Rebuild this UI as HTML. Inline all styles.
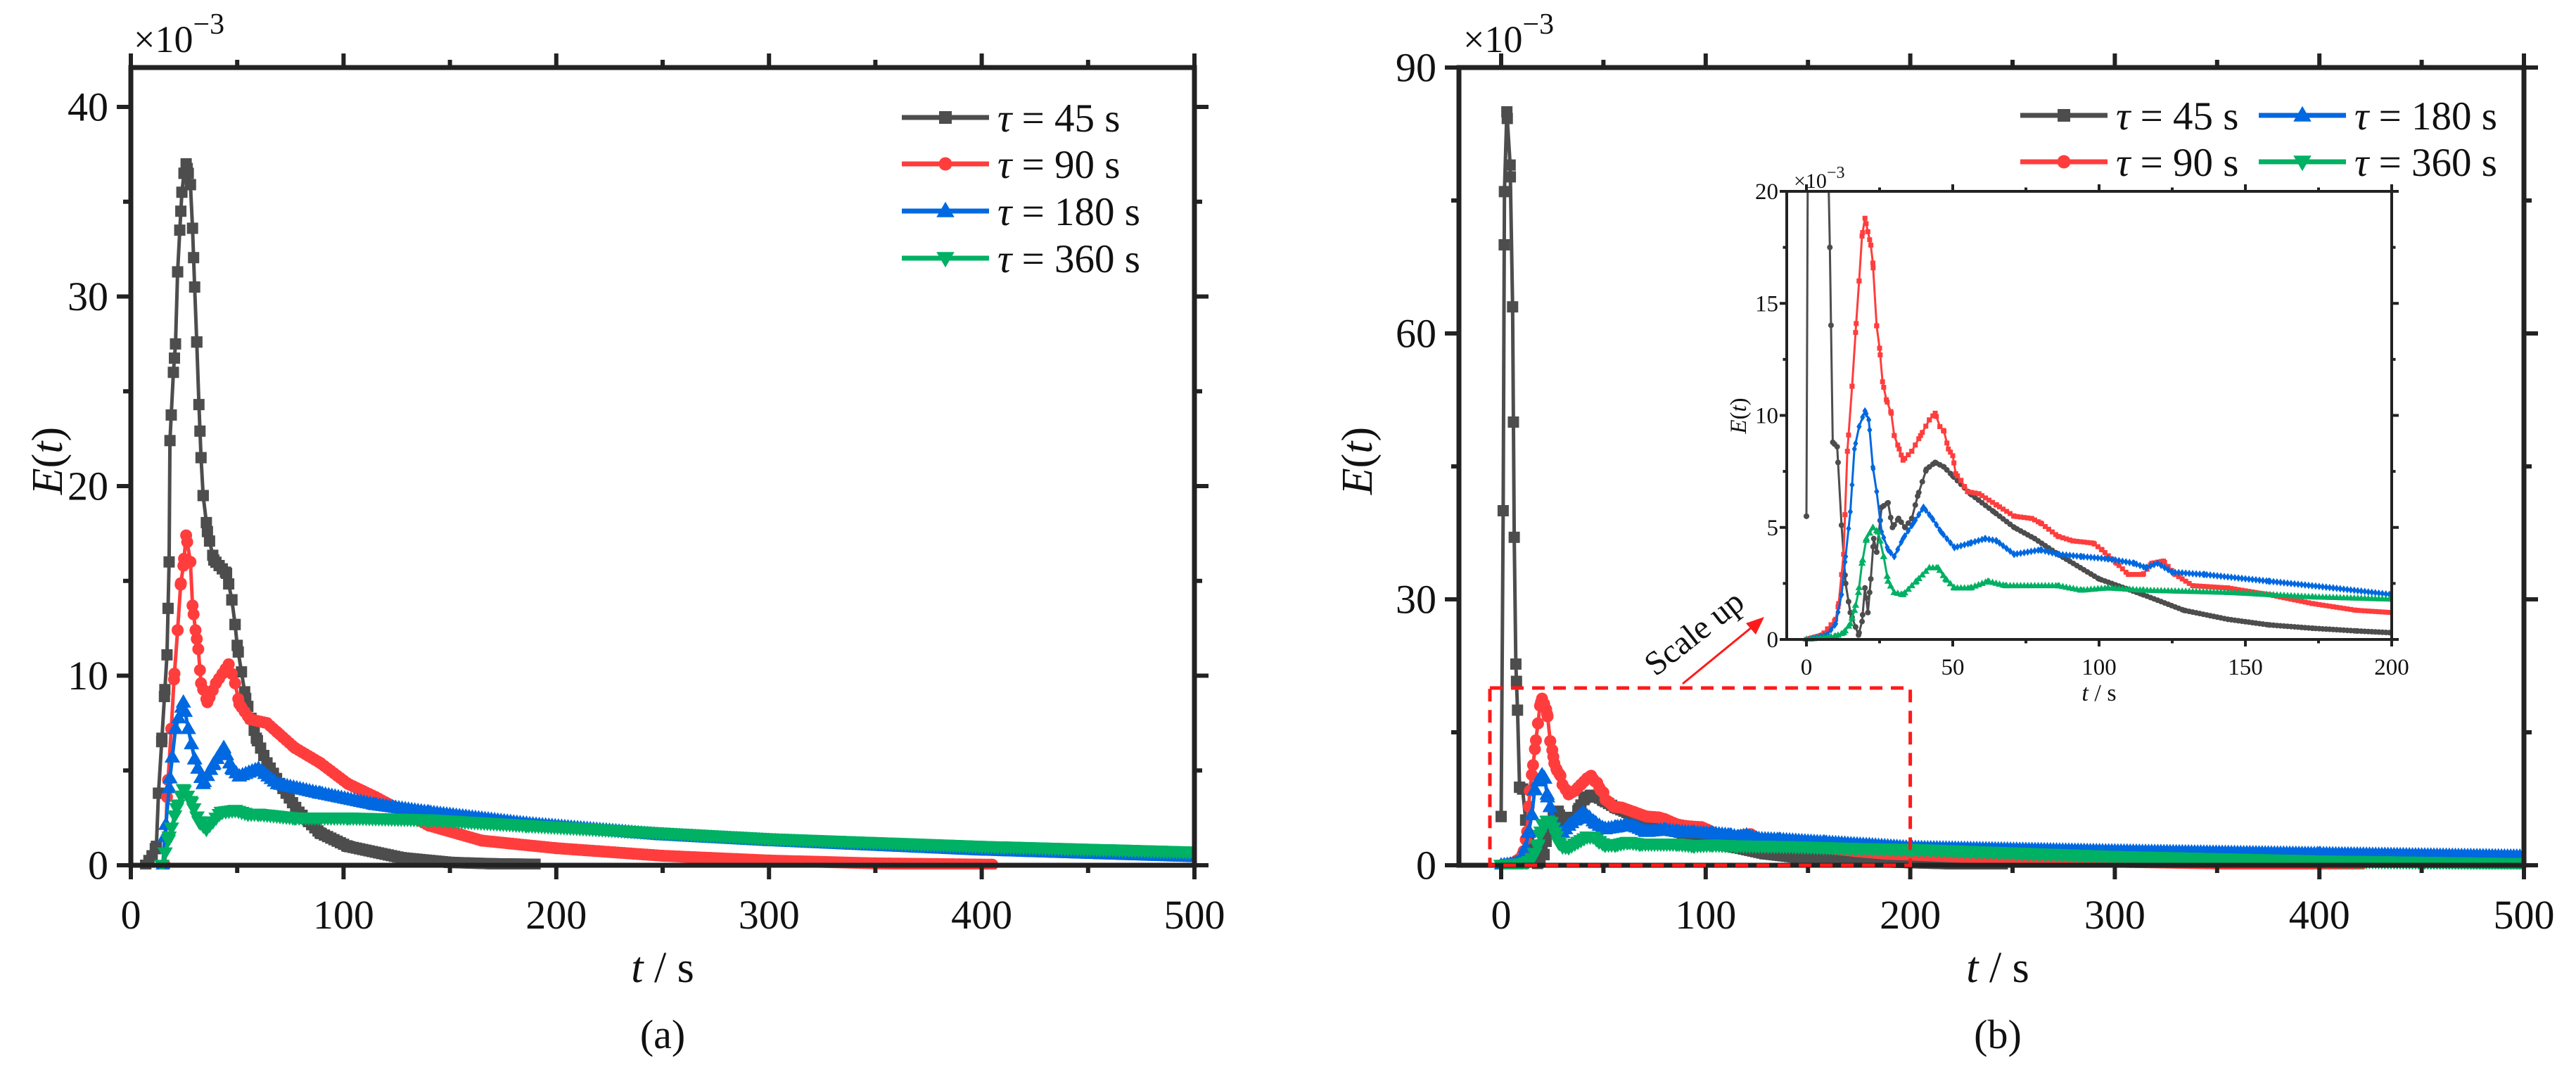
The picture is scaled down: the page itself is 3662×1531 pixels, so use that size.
<!DOCTYPE html>
<html><head><meta charset="utf-8"><style>
html,body{margin:0;padding:0;background:#fff;}
svg{display:block;}
text{font-family:"Liberation Serif",serif;}
</style></head><body>
<svg id="fig" width="3662" height="1531" viewBox="0 0 3662 1531" xmlns="http://www.w3.org/2000/svg" font-family="Liberation Serif, serif">
<defs>
<clipPath id="clipA"><rect x="186" y="96" width="1512" height="1140"/></clipPath>
<clipPath id="clipB"><rect x="2074" y="96" width="1514" height="1140"/></clipPath>
<clipPath id="clipI"><rect x="2540" y="272" width="860" height="640"/></clipPath>
</defs>
<g id="root"></g>
</svg>
<script>
// ---------- data (values ×10^-3) ----------
// Panel (a)
const a45_t=[7,10,12,13,14.6,15.8,17,18,18.4,20,21,22,23,24,25,26,27,28,29,30,31,32,33,34,36,39,45,47.5,49,50,54,59,64,70,79,89,102,127,150,170,190];
const a45_e=[0,0.5,1,3.8,6.7,8.9,11.1,16,22.4,26,27.5,31.3,33.5,35.5,36.5,37,36.5,35.9,33.6,30.5,27.6,24.3,21.5,19.5,17.6,16.1,15.4,14,12.7,11.6,8.8,6.7,5.4,4.3,2.8,1.7,1,0.4,0.15,0.08,0.05];
const a90_t=[16,17,19,20.3,22,23.4,24.7,26,28,29,30.4,31.7,33,36,40,46,49,51,56,64,69,77,89,102,115,140,165,200,250,300,350,405];
const a90_e=[0,3.6,7.2,9.8,12.4,14.8,15.8,17.4,16,13.7,12.4,11.4,9.6,8.6,9.6,10.6,9.6,8.5,7.7,7.5,7,6.2,5.4,4.3,3.6,2.1,1.3,0.9,0.5,0.25,0.1,0.03];
const a180_t=[15,16,18.4,21,24.7,27,30,34,38.7,43.7,47.5,51,60,69,89,115,140,186,250,300,400,500];
const a180_e=[0,1.5,4.6,7.2,8.6,7.2,5.6,4.3,5.3,6.2,5.1,4.7,5.1,4.3,3.8,3.2,2.8,2.2,1.6,1.3,0.8,0.45];
const a360_t=[14.6,18,21.5,24.7,28.5,32,35.5,42.5,49,55,60,77,102,140,186,250,300,400,500];
const a360_e=[0,1.5,3,4,3.3,2.3,1.9,2.8,2.9,2.7,2.7,2.5,2.5,2.4,2.1,1.7,1.4,1.0,0.7];
// Panel (b)
const b45_t=[0,1,1.6,2.8,4.4,5.6,6.4,7.2,8,9,10.5,12,13.4,15,17.8,19,20,21,22,23,24,25.7,27.9,29.4,31.5,33.7,36,38,41,44,47,50,56,64,71,78,86,100,115,129,144,158,173,188,200,245];
const b45_e=[5.5,40,76,85,79,63,37,22.7,17.5,8.8,8.6,5.1,2.5,1.2,0.2,0.8,2.3,1.2,2.7,4.5,3.9,5.9,6.1,5,5.4,5,5.4,6.4,7.6,7.9,7.7,7.3,6.5,5.7,5,4.5,3.8,2.7,2,1.3,0.9,0.65,0.5,0.38,0.3,0];
const b90_t=[0,5.4,10,11,12.7,14,15.6,17,18,19,20,21,22,22.7,24,25,26,27.3,29,30,31.7,33,36,39,42,44,45.6,47,48.5,50,51,52.8,55,59,65,71,77,80,86,91,98,101,106,110,115,118,122,126,132,144,158,173,188,200,250,300,350,420];
const b90_e=[0,0.2,0.9,1.6,3.8,8.4,11.3,14.1,16,18,18.8,18.2,17.6,16.8,14,13,11.5,10.7,10.1,9.1,8.5,8,8.4,9.1,9.8,10.1,9.5,9.3,8.5,8.2,7.4,7.1,6.6,6.5,6,5.5,5.4,5.2,4.6,4.4,4.3,4,3.4,2.9,2.9,3.4,3.5,2.9,2.4,2.3,2,1.6,1.3,1.2,0.7,0.4,0.2,0.05];
const b180_t=[0,7,10,12,13.4,15,16.4,18,20,21.3,22.7,24,25.7,27.9,30,33,36.6,40,43,46,50.6,56,61,65,71,80,86,94,103,112,116,120,125,136,158,180,200,300,400,500];
const b180_e=[0,0.2,0.7,2,3.7,5.7,8.5,9.5,10.2,9.8,7.7,6.6,4.8,4,3.7,4.5,5.2,5.9,5.4,4.8,4.1,4.3,4.5,4.4,3.8,4,3.8,3.7,3.6,3.4,3.2,3.4,3,2.9,2.6,2.3,2,1.6,1.3,1.0];
const b360_t=[0,10,12.7,15,16.4,17.8,19,20.5,22.7,24.5,26.4,27.9,30,33,37.5,42,45,47.6,50.6,56,62,68,86,94,103,115,144,173,200,300,400,500];
const b360_e=[0,0.15,0.3,0.7,1.3,2.1,3.4,4.5,5,4.8,3.7,2.6,2.1,2,2.6,3.2,3.2,2.7,2.3,2.3,2.6,2.4,2.4,2.2,2.3,2.2,2.1,1.9,1.8,1.0,0.5,0.2];
// tick labels
const xTicksMain=[0,100,200,300,400,500];
const yTicksA=[0,10,20,30,40];
const yTicksB=[0,30,60,90];
const xTicksInset=[0,50,100,150,200];
const yTicksInset=[0,5,10,15,20];

const NS="http://www.w3.org/2000/svg";
const FONT="Liberation Serif, serif";
const root=document.getElementById("root");
function mk(tag,attrs,parent){const e=document.createElementNS(NS,tag);for(const k in attrs)e.setAttribute(k,attrs[k]);(parent||root).appendChild(e);return e;}
const COL={k:"#4d4d4d",r:"#ff3d3d",b:"#0068e0",g:"#00b063"};

function axes(x0,x1,t0,t1,y0,y1,v0,v1){
  return {x:v=>x0+(v-t0)*(x1-x0)/(t1-t0), y:v=>y0+(v-v0)*(y1-y0)/(v1-v0)};
}
function interp(ts,es,t){
  if(t<=ts[0])return es[0];
  for(let i=1;i<ts.length;i++){if(t<=ts[i]){const f=(t-ts[i-1])/(ts[i]-ts[i-1]);return es[i-1]+f*(es[i]-es[i-1]);}}
  return es[es.length-1];
}
function marker(g,shape,cx,cy,s,col){
  let el;
  if(shape==="sq"){el=mk("rect",{x:cx-s/2,y:cy-s/2,width:s,height:s,fill:col},g);}
  else if(shape==="ci"){el=mk("circle",{cx:cx,cy:cy,r:s/2,fill:col},g);}
  else if(shape==="up"){el=mk("polygon",{points:`${cx},${cy-s*0.6} ${cx-s*0.58},${cy+s*0.4} ${cx+s*0.58},${cy+s*0.4}`,fill:col},g);}
  else if(shape==="dn"){el=mk("polygon",{points:`${cx},${cy+s*0.6} ${cx-s*0.58},${cy-s*0.4} ${cx+s*0.58},${cy-s*0.4}`,fill:col},g);}
  else {el=mk("polygon",{points:`${cx},${cy-s*0.6} ${cx-s*0.4},${cy} ${cx},${cy+s*0.6} ${cx+s*0.4},${cy}`,fill:col},g);}
  
  
}
function series(ax,ts,es,col,shape,ms,lw,step,clip,name){
  const g=mk("g",{"clip-path":`url(#${clip})`});
  
  
  const d=ts.map((t,i)=>(i?"L":"M")+ax.x(t).toFixed(1)+","+ax.y(es[i]).toFixed(1)).join(" ");
  const p=mk("path",{d:d,fill:"none",stroke:col,"stroke-width":lw,"stroke-linejoin":"round"},g);
  
  
  for(const t of ts) marker(g,shape,ax.x(t),ax.y(interp(ts,es,t)),ms,col);
  for(let t=ts[0];t<=ts[ts.length-1];t+=step) marker(g,shape,ax.x(t),ax.y(interp(ts,es,t)),ms,col);
}
function frame(name,x0,y0,x1,y1,sw){
  const r=mk("rect",{x:x0,y:y0,width:x1-x0,height:y1-y0,fill:"none",stroke:"#222","stroke-width":sw});
  
  
}
function txt(str,x,y,size,anchor,name,extra){
  const t=mk("text",Object.assign({x:x,y:y,"font-size":size,"font-family":FONT,"text-anchor":anchor||"middle",fill:"#111"},extra||{}));
  t.innerHTML=str;
  
  
  return t;
}
function ticks(ax,xt,xminor,yt,yminor,X0,Y0,X1,Y1,len,sw,fs,xname,yname,lblGap){
  const g=mk("g",{stroke:"#222","stroke-width":sw});
  
  
  for(const v of xminor.concat(xt)){const big=xt.includes(v);const L=big?len:len*0.55;const x=ax.x(v);
    mk("line",{x1:x,y1:Y1,x2:x,y2:Y1+L},g);mk("line",{x1:x,y1:Y0,x2:x,y2:Y0-L},g);}
  for(const v of yminor.concat(yt)){const big=yt.includes(v);const L=big?len:len*0.55;const y=ax.y(v);
    mk("line",{x1:X0,y1:y,x2:X0-L,y2:y},g);mk("line",{x1:X1,y1:y,x2:X1+L,y2:y},g);}
  for(const v of xt) txt(String(v),ax.x(v),Y1+lblGap[0],fs,"middle",xname);
  for(const v of yt) txt(String(v),X0-lblGap[1],ax.y(v)+fs*0.34,fs,"end",yname);
}
function legendEntry(x,y,col,shape,label,ms){
  const g=mk("g",{});
  
  
  mk("line",{x1:x,y1:y,x2:x+124,y2:y,stroke:col,"stroke-width":7},g);
  marker(g,shape,x+62,y,ms,col);
  const t=txt(`<tspan font-style="italic">τ</tspan> = ${label} s`,x+136,y+20,57,"start","legend-label");
  g.appendChild(t);
}
const range=(a,b,s)=>{const r=[];for(let v=a;v<=b+1e-9;v+=s)r.push(v);return r;};

// ---------- Panel (a) ----------
const A=axes(186,1698,0,500,1230,152,0,40);
series(A,a45_t,a45_e,COL.k,"sq",16,5,1.5,"clipA","series-tau45");
series(A,a90_t,a90_e,COL.r,"ci",17,5,1.5,"clipA","series-tau90");
series(A,a180_t,a180_e,COL.b,"up",19,5,1.5,"clipA","series-tau180");
series(A,a360_t,a360_e,COL.g,"dn",19,5,1.5,"clipA","series-tau360");
frame("plot-frame-a",186,96,1698,1230,7);
ticks(A,xTicksMain,range(50,450,100),yTicksA,range(5,35,10),186,96,1698,1230,20,6,58,"x-tick-label","y-tick-label",[90,32]);
txt(`<tspan font-style="italic">E</tspan>(<tspan font-style="italic">t</tspan>)`,0,0,62,"middle","y-axis-title",{transform:"translate(88,655) rotate(-90)"});
txt(`<tspan font-style="italic">t</tspan> / s`,942,1396,62,"middle","x-axis-title");
txt(`(a)`,942,1490,58,"middle","panel-label-a");
txt(`×10<tspan font-size="42" dy="-26">−3</tspan>`,190,74,54,"start","y-scale-factor");
legendEntry(1282,167,COL.k,"sq","45",18);
legendEntry(1282,233,COL.r,"ci","90",19);
legendEntry(1282,300,COL.b,"up","180",22);
legendEntry(1282,367,COL.g,"dn","360",22);

// ---------- Panel (b) ----------
const B=axes(2134,3588,0,500,1230,96,0,90);
series(B,b45_t,b45_e,COL.k,"sq",16,5,1.5,"clipB","series-tau45");
series(B,b90_t,b90_e,COL.r,"ci",17,5,1.5,"clipB","series-tau90");
series(B,b180_t,b180_e,COL.b,"up",19,5,1.5,"clipB","series-tau180");
series(B,b360_t,b360_e,COL.g,"dn",19,5,1.5,"clipB","series-tau360");
frame("plot-frame-b",2074,96,3588,1230,7);
ticks(B,xTicksMain,range(50,450,100),yTicksB,range(15,75,30),2074,96,3588,1230,20,6,58,"x-tick-label","y-tick-label",[90,32]);
txt(`<tspan font-style="italic">E</tspan>(<tspan font-style="italic">t</tspan>)`,0,0,62,"middle","y-axis-title",{transform:"translate(1950,655) rotate(-90)"});
txt(`<tspan font-style="italic">t</tspan> / s`,2840,1396,62,"middle","x-axis-title");
txt(`(b)`,2840,1490,58,"middle","panel-label-b");
txt(`×10<tspan font-size="42" dy="-26">−3</tspan>`,2080,74,54,"start","y-scale-factor");
legendEntry(2872,164,COL.k,"sq","45",18);
legendEntry(3211,164,COL.b,"up","180",22);
legendEntry(2872,230,COL.r,"ci","90",19);
legendEntry(3211,230,COL.g,"dn","360",22);

// zoom region + arrow
const zr=mk("rect",{x:B.x(-5.5),y:B.y(20),width:B.x(200)-B.x(-5.5),height:B.y(0)-B.y(20),fill:"none",stroke:"#ff1a1a","stroke-width":5,"stroke-dasharray":"18,12"});


const ar=mk("line",{x1:2392,y1:972,x2:2496,y2:887,stroke:"#ff1a1a","stroke-width":3});


const ah=mk("polygon",{points:"2508,877 2482,886 2496,902",fill:"#ff1a1a"});


txt("Scale up",0,0,48,"middle","scale-up-label",{transform:"translate(2418,912) rotate(-38)"});

// ---------- Inset ----------
const I=axes(2568,3400,0,200,909,272,0,20);
const bg=mk("rect",{x:2540,y:272,width:860,height:637,fill:"#fff"});


series(I,b45_t,b45_e,COL.k,"ci",8,3,1.2,"clipI","inset-series-tau45");
series(I,b90_t,b90_e,COL.r,"sq",7,3,1.2,"clipI","inset-series-tau90");
series(I,b180_t,b180_e,COL.b,"di",9,3,1.2,"clipI","inset-series-tau180");
series(I,b360_t,b360_e,COL.g,"up",9,3,1.2,"clipI","inset-series-tau360");
frame("inset-frame",2540,272,3400,909,4);
ticks(I,xTicksInset,range(25,175,50),yTicksInset,range(2.5,17.5,5),2540,272,3400,909,10,4,33,"inset-x-tick-label","inset-y-tick-label",[50,12]);
txt(`<tspan font-style="italic">E</tspan>(<tspan font-style="italic">t</tspan>)`,0,0,33,"middle","inset-y-axis-title",{transform:"translate(2482,591) rotate(-90)"});
txt(`<tspan font-style="italic">t</tspan> / s`,2984,996,34,"middle","inset-x-axis-title");
txt(`×10<tspan font-size="24" dy="-14">−3</tspan>`,2550,267,30,"start","inset-y-scale-factor");
</script>
</body></html>
